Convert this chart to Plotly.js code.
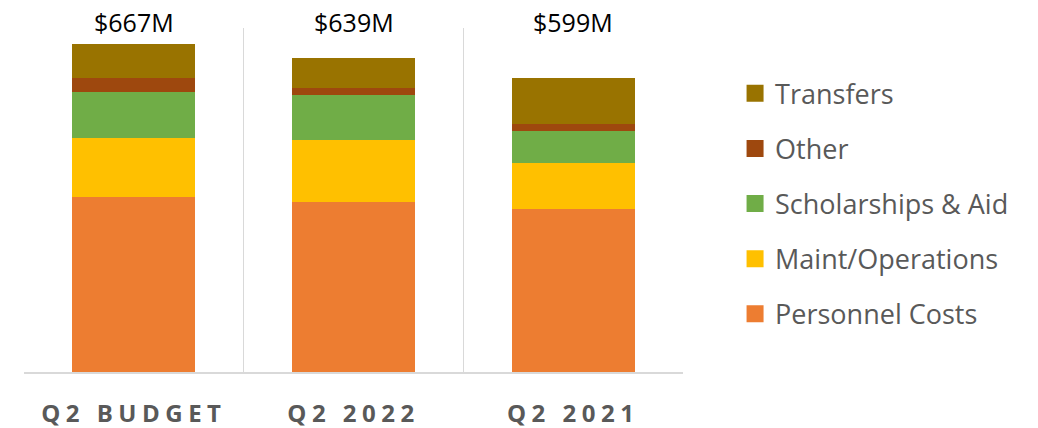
<!DOCTYPE html>
<html>
<head>
<meta charset="utf-8">
<script src="https://cdn.plot.ly/plotly-3.0.1.min.js"></script>
<style>
html,body{margin:0;padding:0;background:#fff;}
#chart{width:1038px;height:428px;}
.xtick text{letter-spacing:5.5px;}
</style>
</head>
<body>
<div id="chart"></div>
<script>
const categories = ["Q2 BUDGET", "Q2 2022", "Q2 2021"];
const personnel = [356, 346, 331];
const maintOps = [121, 126, 94];
const scholarships = [92, 92, 66];
const other = [29, 13.5, 14];
const transfers = [69, 61.5, 94];

const seriesNames = ["Personnel Costs", "Maint/Operations", "Scholarships & Aid", "Other", "Transfers"];
const seriesValues = [personnel, maintOps, scholarships, other, transfers];
const seriesColors = ["#ED7D31", "#FFC000", "#70AD47", "#9E480E", "#997300"];

const traces = seriesNames.map((name, i) => ({
  type: "bar",
  name: name,
  x: categories,
  y: seriesValues[i],
  marker: {color: seriesColors[i], line: {width: 0}},
  legendgroup: name,
  legendrank: 1000 - i,
  hoverinfo: "skip"
}));

const totals = categories.map((c, j) => seriesValues.reduce((s, arr) => s + arr[j], 0));

const annotations = categories.map((c, j) => ({
  x: c, xref: "x",
  y: 1, yref: "paper", yanchor: "bottom",
  yshift: -13,
  text: "$" + Math.round(totals[j]) + "M",
  showarrow: false,
  font: {family: "Open Sans, sans-serif", size: 25, color: "#000"}
}));

const layout = {
  width: 1038, height: 428,
  margin: {l: 24, r: 355, t: 28, b: 56},
  paper_bgcolor: "#fff", plot_bgcolor: "#fff",
  barmode: "stack",
  bargap: 0.44,
  showlegend: true,
  legend: {
    x: 1.079, xanchor: "left",
    y: 0.489, yanchor: "middle",
    traceorder: "grouped",
    tracegroupgap: 17,
    font: {family: "Open Sans, sans-serif", size: 27, color: "#595959"},
    bgcolor: "rgba(0,0,0,0)"
  },
  xaxis: {
    type: "category",
    tickson: "boundaries",
    showgrid: true, gridcolor: "#d9d9d9", gridwidth: 1.5,
    showline: true, linecolor: "#d9d9d9", linewidth: 1.5,
    ticks: "",
    ticklabelstandoff: 20,
    tickfont: {family: "Open Sans, sans-serif", size: 24, color: "#595959", weight: "bold"},
    fixedrange: true
  },
  yaxis: {
    range: [0, 700],
    showgrid: false, zeroline: false, showticklabels: false, ticks: "",
    fixedrange: true
  },
  annotations: annotations
};

Plotly.newPlot("chart", traces, layout, {displayModeBar: false, staticPlot: true}).then(function () {
  document.querySelectorAll("#chart .legend .legendpoints path").forEach(function (p) {
    p.setAttribute("d", "M8.5,8.5H-8.5V-8.5H8.5Z");
  });
});
</script>
</body>
</html>
